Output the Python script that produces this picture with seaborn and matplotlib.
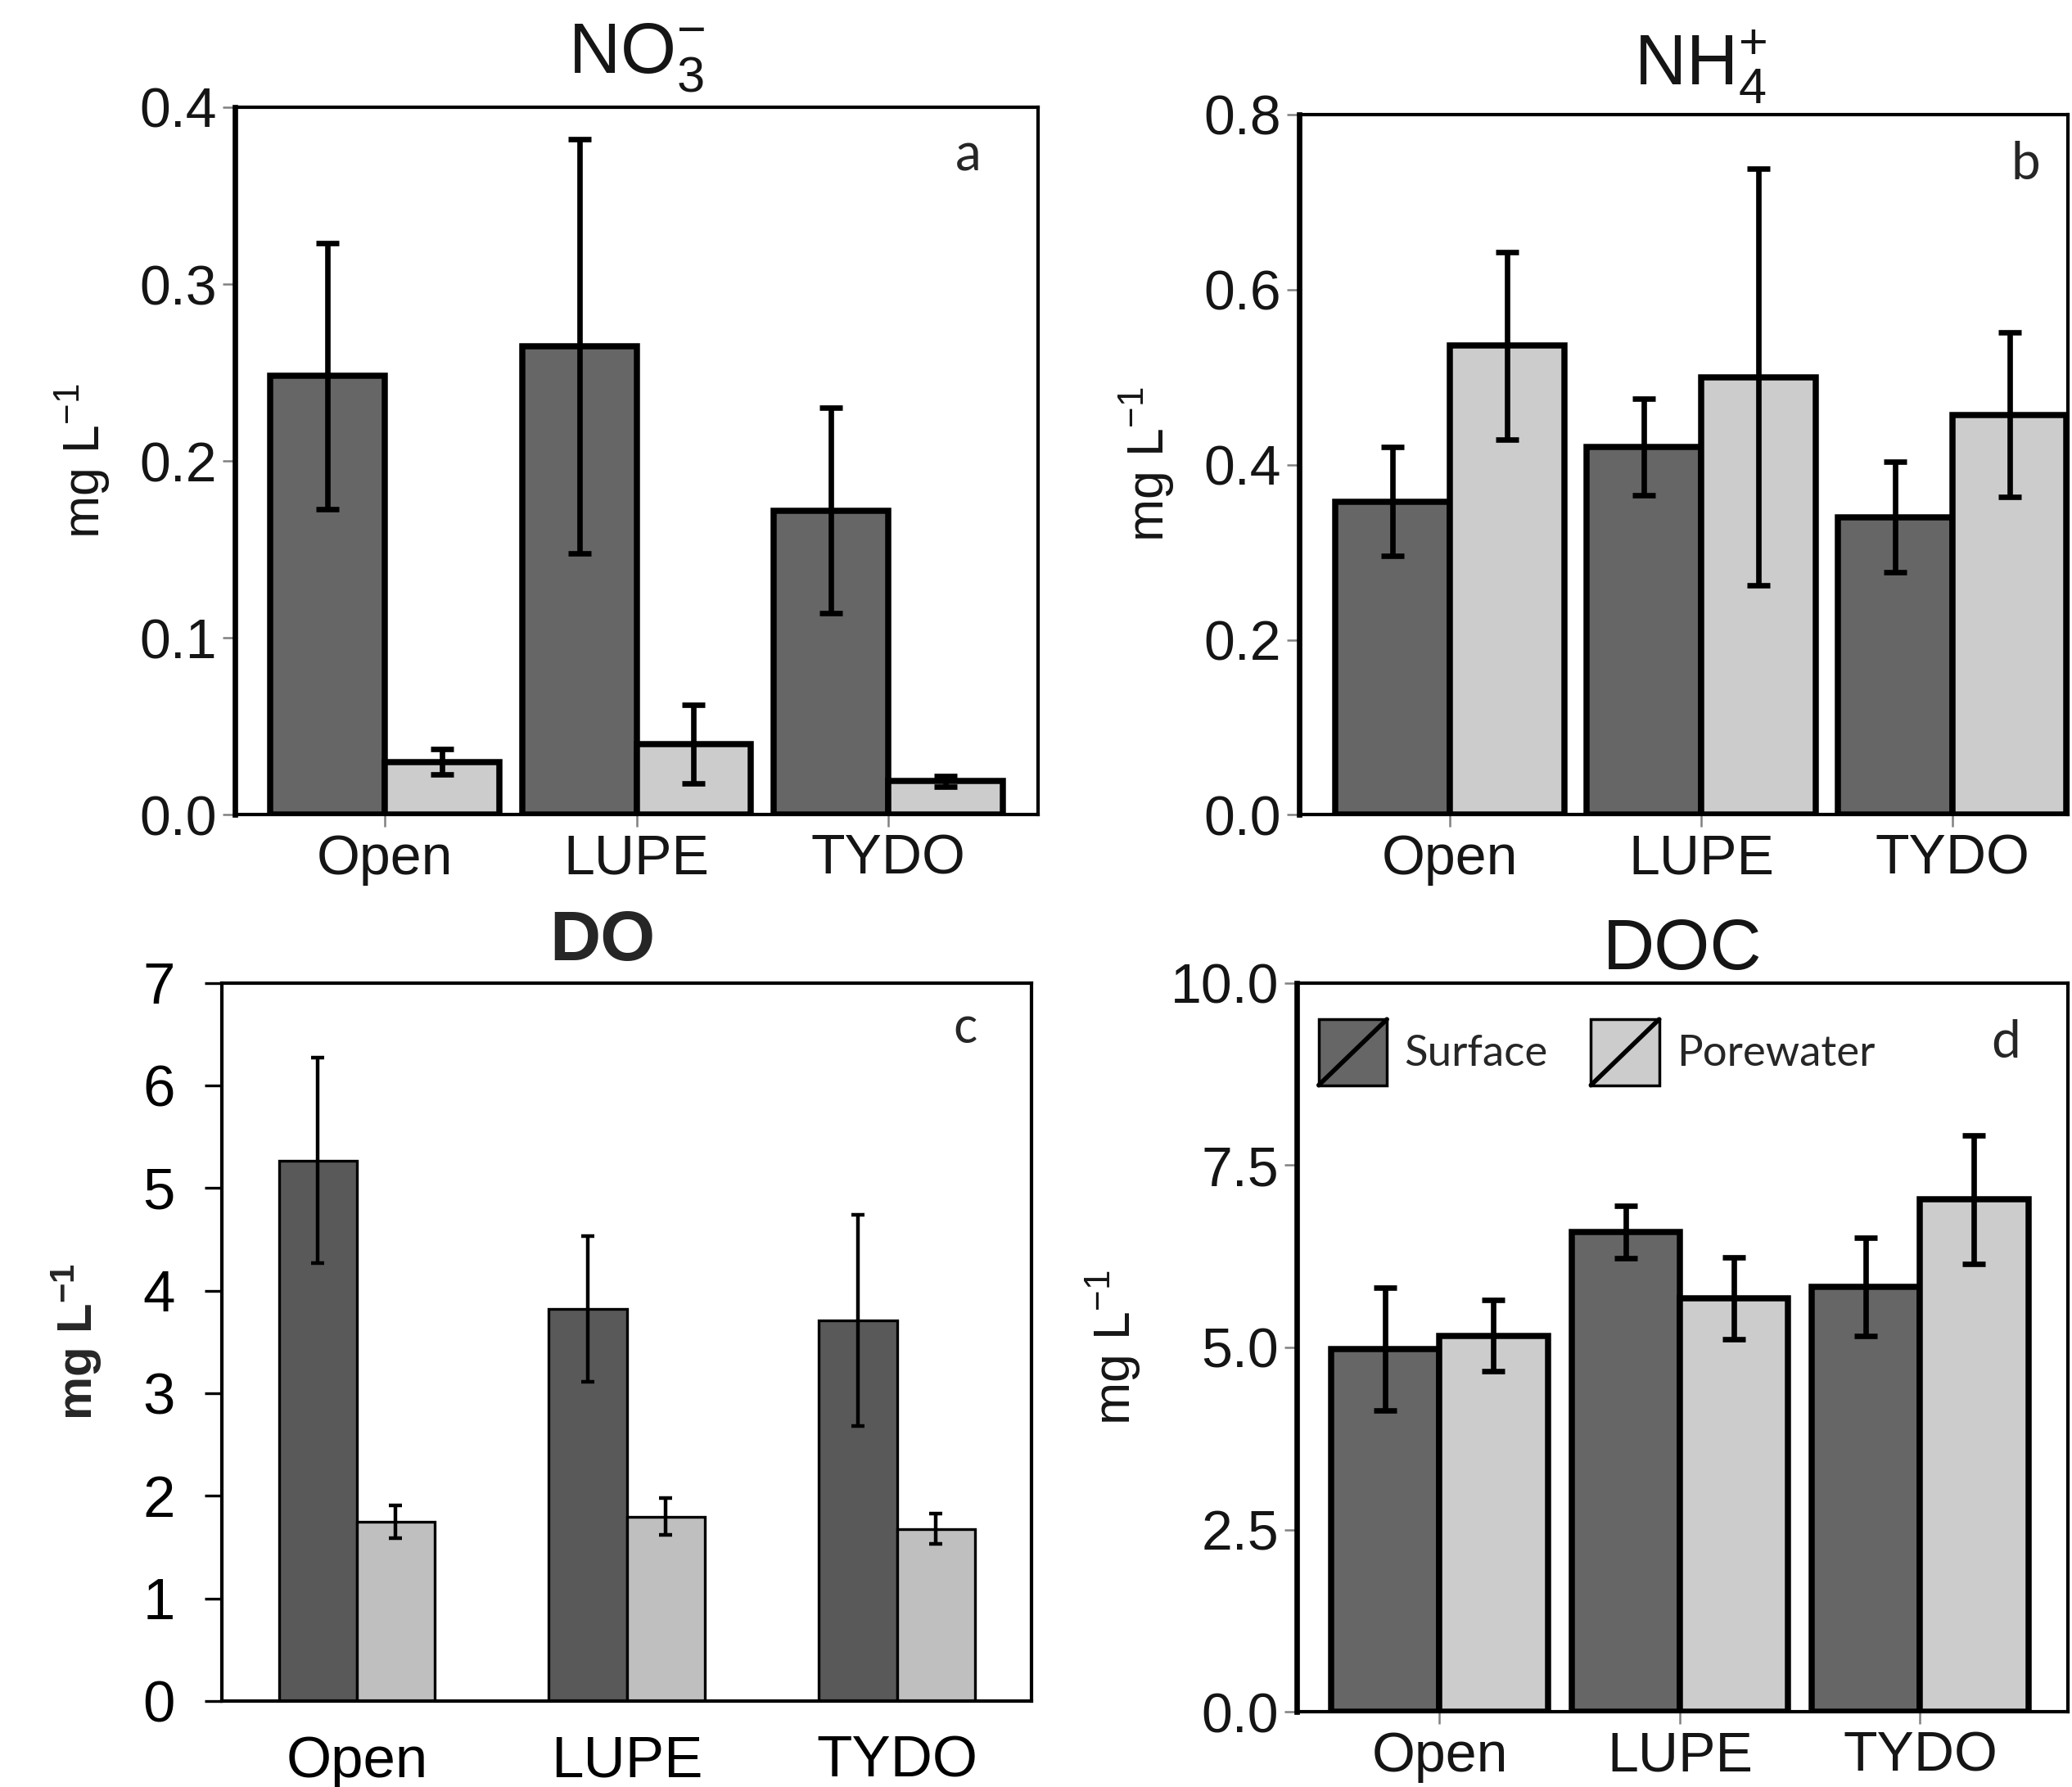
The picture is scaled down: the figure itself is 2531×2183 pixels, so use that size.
import matplotlib
matplotlib.use('Agg')
import matplotlib.pyplot as plt
from matplotlib.legend_handler import HandlerBase
from matplotlib.patches import Rectangle, Patch
from matplotlib.lines import Line2D
import pandas as pd
import seaborn as sns

sites = ['Open', 'LUPE', 'TYDO']
waters = ['Surface', 'Porewater']

# panel a: nitrate
no3_surface = [0.248, 0.265, 0.172]
no3_surface_err = [0.075, 0.117, 0.058]
no3_pore = [0.030, 0.040, 0.019]
no3_pore_err = [0.007, 0.022, 0.003]

# panel b: ammonium
nh4_surface = [0.358, 0.420, 0.340]
nh4_surface_err = [0.062, 0.055, 0.063]
nh4_pore = [0.536, 0.500, 0.457]
nh4_pore_err = [0.107, 0.238, 0.094]

# panel c: dissolved oxygen
do_surface = [5.27, 3.82, 3.71]
do_surface_err = [1.00, 0.71, 1.03]
do_pore = [1.75, 1.80, 1.68]
do_pore_err = [0.16, 0.18, 0.15]

# panel d: dissolved organic carbon
doc_surface = [4.98, 6.58, 5.83]
doc_surface_err = [0.84, 0.36, 0.67]
doc_pore = [5.16, 5.67, 7.03]
doc_pore_err = [0.49, 0.56, 0.88]

sns.set_style('white')
plt.rcParams['font.family'] = ['Liberation Sans', 'DejaVu Sans']
plt.rcParams['mathtext.default'] = 'regular'

R_COLORS = {'Surface': '#666666', 'Porewater': '#cccccc'}
XL_COLORS = {'Surface': '#595959', 'Porewater': '#bfbfbf'}
TICK_TXT = '#151515'


class SlashHandler(HandlerBase):
    """legend key: filled box with a diagonal slash"""
    def create_artists(self, legend, orig_handle, xdescent, ydescent,
                       width, height, fontsize, trans):
        box = Rectangle((-xdescent, -ydescent), width, height,
                        facecolor=orig_handle.get_facecolor(),
                        edgecolor='black', lw=2.5, transform=trans)
        slash = Line2D([-xdescent, -xdescent + width],
                       [-ydescent, -ydescent + height],
                       color='black', lw=4, transform=trans)
        return [box, slash]


def draw_bars(ax, surface, surface_err, pore, pore_err, colors, width,
              edge_lw, err_lw, capsize):
    df = pd.DataFrame({'site': sites * 2,
                       'water': ['Surface'] * 3 + ['Porewater'] * 3,
                       'value': surface + pore})
    sns.barplot(data=df, x='site', y='value', hue='water', order=sites,
                hue_order=waters, palette=colors, width=width, errorbar=None,
                saturation=1, edgecolor='black', linewidth=edge_lw,
                legend=False, ax=ax)
    bar_sets = list(ax.containers)[:2]
    for bars, errs in zip(bar_sets, [surface_err, pore_err]):
        xs = [b.get_x() + b.get_width() / 2 for b in bars]
        ys = [b.get_height() for b in bars]
        ax.errorbar(xs, ys, yerr=errs, fmt='none', ecolor='black',
                    elinewidth=err_lw, capsize=capsize, capthick=err_lw,
                    zorder=5)
    ax.set_xlabel('')


def style_r(ax, ymax, yticks, fmt, title, letter, title_x=0.5, title_pad=22,
            xlim=(-0.595, 2.595), letter_xy=(0.92, 0.93)):
    ax.set_ylim(0, ymax)
    ax.set_xlim(*xlim)
    ax.set_yticks(yticks)
    ax.set_yticklabels([fmt.format(v) for v in yticks])
    for side in ['top', 'right', 'bottom']:
        ax.spines[side].set_linewidth(3)
        ax.spines[side].set_color('black')
    ax.spines['left'].set_linewidth(4.8)
    ax.spines['left'].set_color('black')
    ax.tick_params(axis='both', which='major', direction='out', length=11,
                   width=1.8, color='#808080', labelsize=49,
                   labelcolor=TICK_TXT, pad=5, left=True, bottom=True)
    ax.set_ylabel('mg L$^{-1}$', fontsize=45, color=TICK_TXT, labelpad=24)
    ax.set_title(title, fontsize=63, color=TICK_TXT, pad=title_pad, x=title_x)
    ax.text(letter_xy[0], letter_xy[1], letter, transform=ax.transAxes,
            fontsize=46, family=['Lato', 'DejaVu Sans'], ha='center', va='center')


fig = plt.figure(figsize=(25.31, 21.83), dpi=100)

ax_a = fig.add_axes([0.1134, 0.544, 0.3876, 0.396])
ax_b = fig.add_axes([0.627, 0.544, 0.371, 0.392])
ax_c = fig.add_axes([0.107, 0.048, 0.391, 0.402])
ax_d = fig.add_axes([0.626, 0.042, 0.372, 0.408])

draw_bars(ax_a, no3_surface, no3_surface_err, no3_pore, no3_pore_err,
          R_COLORS, 0.91, 5.4, 4.8, 10)
style_r(ax_a, 0.4, [0.0, 0.1, 0.2, 0.3, 0.4], '{:.1f}', 'NO$_3^{-}$', 'a',
        title_pad=30, letter_xy=(0.913, 0.931))

draw_bars(ax_b, nh4_surface, nh4_surface_err, nh4_pore, nh4_pore_err,
          R_COLORS, 0.91, 5.4, 4.8, 10)
style_r(ax_b, 0.8, [0.0, 0.2, 0.4, 0.6, 0.8], '{:.1f}', 'NH$_4^{+}$', 'b',
        title_x=0.522, title_pad=26, xlim=(-0.6, 2.46),
        letter_xy=(0.945, 0.928))

draw_bars(ax_d, doc_surface, doc_surface_err, doc_pore, doc_pore_err,
          R_COLORS, 0.9, 5.4, 4.8, 10)
style_r(ax_d, 10, [0.0, 2.5, 5.0, 7.5, 10.0], '{:.1f}', 'DOC', 'd',
        title_pad=12, xlim=(-0.593, 2.615), letter_xy=(0.92, 0.918))

handles = [Patch(facecolor=R_COLORS[w]) for w in waters]
ax_d.legend(handles, waters, handler_map={Patch: SlashHandler()},
            loc='upper left', bbox_to_anchor=(0.028, 0.95), ncol=2,
            frameon=False, borderaxespad=0, borderpad=0,
            handlelength=1.58, handleheight=1.97, handletextpad=0.4,
            columnspacing=1.0, prop={'family': ['Lato', 'DejaVu Sans'], 'size': 38})

# panel c, spreadsheet style
draw_bars(ax_c, do_surface, do_surface_err, do_pore, do_pore_err,
          XL_COLORS, 0.577, 2.4, 3.2, 6)
ax_c.set_ylim(0, 7)
ax_c.set_xlim(-0.5, 2.5)
ax_c.set_yticks(range(0, 8))
for side in ax_c.spines.values():
    side.set_linewidth(3)
    side.set_color('black')
ax_c.tick_params(axis='y', direction='out', length=15, width=2.4,
                 color='black', labelsize=51, labelcolor='black', pad=26,
                 left=True)
ax_c.tick_params(axis='x', length=0, labelsize=51, labelcolor='black', pad=30)
ax_c.set_ylabel('mg L$^{-1}$', fontsize=43, fontweight='bold', labelpad=34)
ax_c.set_title('DO', fontsize=62, fontweight='bold', pad=20, x=0.47)
ax_c.text(0.918, 0.936, 'c', transform=ax_c.transAxes, fontsize=44,
          family=['Lato', 'DejaVu Sans'], ha='center', va='center')

fig.savefig('out.png', dpi=100)
